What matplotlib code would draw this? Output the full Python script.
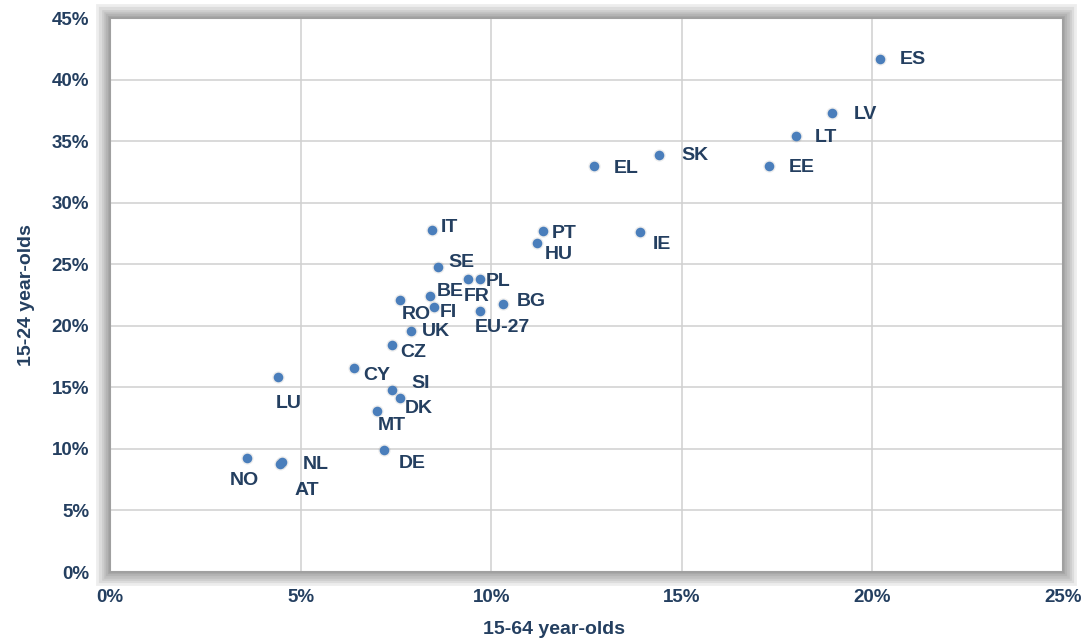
import matplotlib
matplotlib.use("Agg")
import matplotlib.pyplot as plt
from matplotlib.patches import Rectangle
from matplotlib.ticker import FuncFormatter, MultipleLocator

countries = ["ES", "LV", "LT", "EE", "SK", "EL", "IE", "PT", "HU", "IT", "SE", "PL", "FR", "BE",
             "RO", "FI", "BG", "EU-27", "UK", "CZ", "CY", "LU", "SI", "DK", "MT", "DE", "NO", "NL", "AT"]
x_1564 = [20.2, 18.95, 18.0, 17.3, 14.4, 12.7, 13.9, 11.35, 11.2, 8.45, 8.6, 9.7, 9.4, 8.4,
          7.6, 8.5, 10.3, 9.7, 7.9, 7.4, 6.4, 4.4, 7.4, 7.6, 7.0, 7.2, 3.6, 4.5, 4.45]
y_1524 = [41.7, 37.3, 35.4, 33.0, 33.9, 33.0, 27.6, 27.7, 26.7, 27.8, 24.8, 23.8, 23.8, 22.4,
          22.1, 21.5, 21.8, 21.2, 19.6, 18.4, 16.6, 15.8, 14.8, 14.1, 13.1, 9.9, 9.3, 8.9, 8.8]
# label offsets in pixels (dx, dy)
offsets = {"ES": (20, -1), "LV": (21, -2), "LT": (19, -1), "EE": (19, -2), "SK": (22, -1),
           "EL": (20, -3), "IE": (13, -12), "PT": (9, -2), "HU": (8, -11), "IT": (9, 2),
           "SE": (11, 4), "PL": (6, -2), "FR": (-5, -17), "BE": (7, 5), "RO": (2, -15),
           "FI": (6, -5), "BG": (14, 2), "EU-27": (-5, -16), "UK": (11, -1), "CZ": (8, -7),
           "CY": (9, -8), "LU": (-2, -26), "SI": (19, 6), "DK": (5, -10), "MT": (1, -15),
           "DE": (14, -13), "NO": (-17, -23), "NL": (21, -2), "AT": (15, -27)}

navy = "#243f60"
plt.rcParams['font.family'] = ['Liberation Sans', 'DejaVu Sans']

fig = plt.figure(figsize=(10.88, 6.44), dpi=100)
ax = fig.add_axes([0.1011, 0.1118, 0.8759, 0.8602])

# soft shadow around the plot frame
for w in [20, 16, 12, 9, 6, 3]:
    fig.patches.append(Rectangle((0.1011, 0.1118), 0.8759, 0.8602, transform=fig.transFigure,
                                 fill=False, edgecolor="#505050", lw=w, alpha=0.1, zorder=-1))

ax.set_xlim(0, 25)
ax.set_ylim(0, 45)
ax.xaxis.set_major_locator(MultipleLocator(5))
ax.yaxis.set_major_locator(MultipleLocator(5))
pct = FuncFormatter(lambda v, p: f"{v:.0f}%")
ax.xaxis.set_major_formatter(pct)
ax.yaxis.set_major_formatter(pct)
ax.grid(True, color="#d0d0d0", lw=1.1)
ax.set_axisbelow(True)
for s in ax.spines.values():
    s.set_color("#a0a0a0")
    s.set_linewidth(1.5)
ax.tick_params(length=0, labelsize=13.5, labelcolor=navy)
ax.tick_params(axis="y", pad=15)
ax.tick_params(axis="x", pad=12)
for lab in ax.get_xticklabels() + ax.get_yticklabels():
    lab.set_fontweight("bold")

# point shadows
ax.scatter(x_1564, y_1524, s=80, color="#000000", alpha=0.07, linewidths=0, zorder=2)
ax.scatter(x_1564, y_1524, s=48, color="#4a7ebb", linewidths=0, zorder=3)
for c, xv, yv in zip(countries, x_1564, y_1524):
    dx, dy = offsets[c]
    ax.annotate(c, (xv, yv), xytext=(dx, dy), textcoords="offset pixels",
                ha="left", va="center", fontsize=14, fontweight="bold", color=navy, zorder=4)

ax.set_xlabel("15-64 year-olds", fontsize=14, fontweight="bold", color=navy)
ax.xaxis.set_label_coords(0.4655, -0.088)
ax.set_ylabel("15-24 year-olds", fontsize=14, fontweight="bold", color=navy, labelpad=12)

fig.savefig("out.png", dpi=100, facecolor="white")
